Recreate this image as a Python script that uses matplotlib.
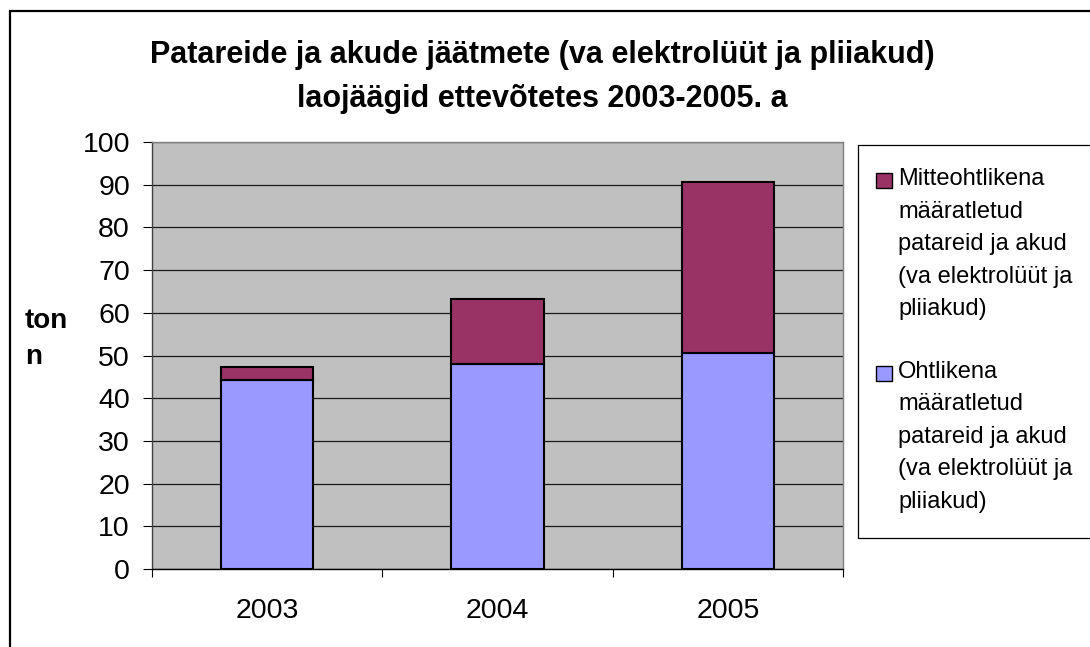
import matplotlib
matplotlib.use("Agg")
import matplotlib.pyplot as plt
from matplotlib.patches import Rectangle

plt.rcParams['font.family'] = ['Liberation Sans', 'DejaVu Sans']

# data (tonnes)
years = ['2003', '2004', '2005']
hazardous = [44.3, 48.1, 50.6]        # Ohtlikena ...
non_hazardous = [3.0, 15.2, 40.0]     # Mitteohtlikena ...

title_lines = ['Patareide ja akude jäätmete (va elektrolüüt ja pliiakud)',
               'laojäägid ettevõtetes 2003-2005. a']
ylabel_lines = ['ton', 'n']
legend_labels = [
    ['Mitteohtlikena', 'määratletud', 'patareid ja akud', '(va elektrolüüt ja', 'pliiakud)'],
    ['Ohtlikena', 'määratletud', 'patareid ja akud', '(va elektrolüüt ja', 'pliiakud)'],
]
col_blue = '#9999FF'
col_red = '#993366'

W, H = 1090, 647
fig = plt.figure(figsize=(W / 100, H / 100), dpi=100)
fig.patch.set_facecolor('white')

def fx(px):
    return px / W

def fy(py):
    return (H - py) / H

# outer chart border (only left/top edges are visible in the crop)
fig.patches.append(Rectangle((fx(10), -0.05), 1.1, fy(11) + 0.05, transform=fig.transFigure,
                             fill=False, ec='black', lw=1.6, clip_on=False))

ax = fig.add_axes([fx(152), fy(569), fx(843) - fx(152), fy(142) - fy(569)])
ax.set_facecolor('#C0C0C0')

x = list(range(len(years)))
ax.bar(x, hazardous, width=0.4, color=col_blue, edgecolor='black', linewidth=1.5, zorder=3)
ax.bar(x, non_hazardous, bottom=hazardous, width=0.4, color=col_red, edgecolor='black',
       linewidth=1.5, zorder=3)

ax.set_xlim(-0.5, 2.5)
ax.set_ylim(0, 100)
ax.set_yticks(range(0, 101, 10))
ax.yaxis.grid(True, color='#1a1a1a', lw=0.9)
ax.set_axisbelow(True)

ax.set_xticks(x)
ax.set_xticklabels(years)
ax.set_xticks([-0.5, 0.5, 1.5, 2.5], minor=True)
ax.tick_params(axis='x', which='major', length=0, pad=21, labelsize=20.5)
ax.tick_params(axis='x', which='minor', length=5.5, width=0.8, direction='out')
ax.tick_params(axis='y', length=6.5, width=0.8, pad=9.4, labelsize=20.5)

ax.spines['top'].set_color('#808080')
ax.spines['right'].set_color('#808080')
ax.spines['left'].set_color('#404040')
ax.spines['bottom'].set_color('black')
for s in ax.spines.values():
    s.set_linewidth(1.0)

# title
fig.text(fx(542), fy(63.5), title_lines[0], ha='center', va='baseline',
         fontsize=22, fontweight='bold')
fig.text(fx(542), fy(107.5), title_lines[1], ha='center', va='baseline',
         fontsize=22, fontweight='bold')

# y axis label, wrapped like the original
for i, t in enumerate(ylabel_lines):
    fig.text(fx(25), fy(328 + 36 * i), t, ha='left', va='baseline',
             fontsize=20, fontweight='bold')

# legend box
fig.patches.append(Rectangle((fx(858), fy(538)), 0.3, fy(145) - fy(538), transform=fig.transFigure,
                             fill=True, fc='white', ec='black', lw=0.9, clip_on=False))
entry_base = [185, 378]
entry_col = [col_red, col_blue]
for k, lines in enumerate(legend_labels):
    b0 = entry_base[k]
    fig.patches.append(Rectangle((fx(876), fy(b0 + 3)), fx(892) - fx(876), fy(b0 - 12) - fy(b0 + 3),
                                 transform=fig.transFigure, fc=entry_col[k], ec='black', lw=1.0))
    for i, t in enumerate(lines):
        fig.text(fx(898), fy(b0 + 32.5 * i), t, ha='left', va='baseline', fontsize=17)

fig.savefig('out.png', dpi=100)
